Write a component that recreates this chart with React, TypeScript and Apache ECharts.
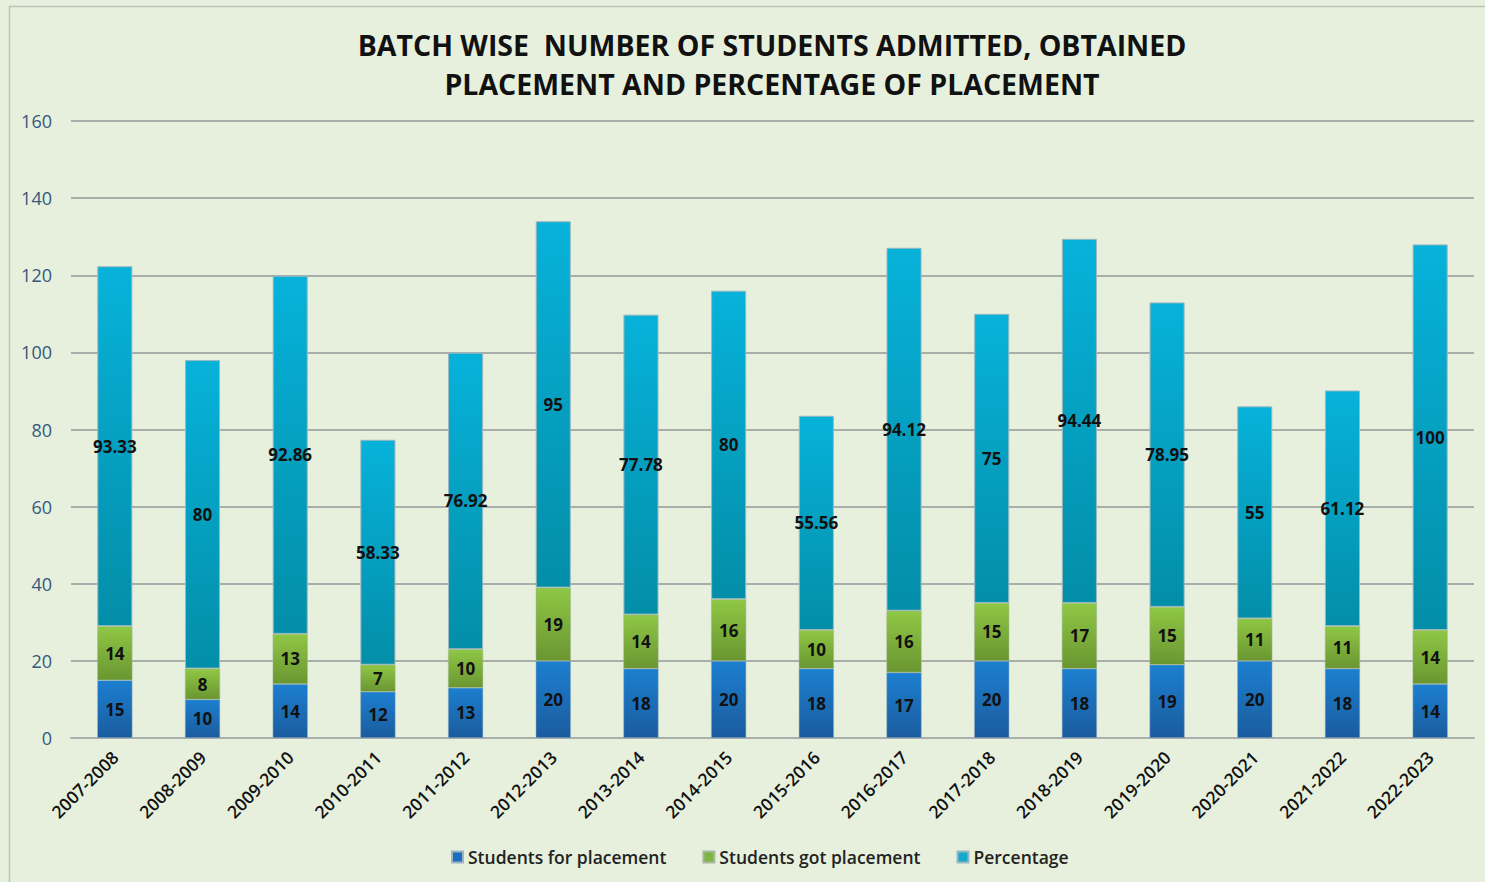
import React, { useEffect, useRef } from "react";
import * as echarts from "echarts";

const categories = ["2007-2008","2008-2009","2009-2010","2010-2011","2011-2012","2012-2013","2013-2014","2014-2015","2015-2016","2016-2017","2017-2018","2018-2019","2019-2020","2020-2021","2021-2022","2022-2023"];
const studentsForPlacement = [15,10,14,12,13,20,18,20,18,17,20,18,19,20,18,14];
const studentsGotPlacement = [14,8,13,7,10,19,14,16,10,16,15,17,15,11,11,14];
const percentage = [93.33,80,92.86,58.33,76.92,95,77.78,80,55.56,94.12,75,94.44,78.95,55,61.12,100];
const yTicks = [0, 20, 40, 60, 80, 100, 120, 140, 160];

const FONT = "'Open Sans', 'Noto Sans', sans-serif";

function grad(top: string, bottom: string) {
  return new echarts.graphic.LinearGradient(0, 0, 0, 1, [
    { offset: 0, color: top },
    { offset: 1, color: bottom },
  ]);
}

export default function App() {
  const ref = useRef<HTMLDivElement>(null);
  useEffect(() => {
    document.body.style.margin = "0";
    const chart = echarts.init(ref.current!, null, { renderer: "svg" });
    const label = {
      show: true,
      position: "inside" as const,
      color: "#111",
      fontFamily: FONT,
      fontWeight: "bold" as const,
      fontSize: 17,
    };
    chart.setOption({
      animation: false,
      backgroundColor: "#e6f0dd",
      title: {
        text: "BATCH WISE  NUMBER OF STUDENTS ADMITTED, OBTAINED\nPLACEMENT AND PERCENTAGE OF PLACEMENT",
        left: 767,
        textAlign: "center",
        top: 20,
        textStyle: {
          fontFamily: FONT,
          fontWeight: "bold",
          fontSize: 28.5,
          lineHeight: 39,
          color: "#111",
        },
      },
      graphic: [
        {
          type: "rect",
          shape: { x: 9.5, y: 6.5, width: 1520, height: 920 },
          style: { fill: "none", stroke: "#b9c4b8", lineWidth: 1.5 },
          silent: true,
        },
      ],
      legend: {
        bottom: 11,
        left: 446,
        itemWidth: 11,
        itemHeight: 11,
        itemGap: 36,
        icon: "rect",
        textStyle: { fontFamily: FONT, fontWeight: 600, fontSize: 17.5, color: "#222" },
        data: [
          { name: "Students for placement", itemStyle: { color: "#1a6fc0" } },
          { name: "Students got placement", itemStyle: { color: "#7db544" } },
          { name: "Percentage", itemStyle: { color: "#14aacc" } },
        ],
      },
      grid: { left: 71, right: 11, top: 121, bottom: 144, containLabel: false },
      xAxis: {
        type: "category",
        data: categories,
        axisLine: { show: true, lineStyle: { color: "#a8b0b0", width: 2 } },
        axisTick: { show: false },
        axisLabel: {
          rotate: 45,
          interval: 0,
          margin: 16,
          color: "#111",
          fontFamily: FONT,
          fontWeight: 600,
          fontSize: 17.5,
        },
      },
      yAxis: {
        type: "value",
        min: yTicks[0],
        max: yTicks[yTicks.length - 1],
        interval: 20,
        axisLine: { show: false },
        axisTick: { show: false },
        splitLine: { lineStyle: { color: "#a9aeab", width: 2 } },
        axisLabel: { color: "#35587e", fontFamily: FONT, fontSize: 18, margin: 19 },
      },
      series: [
        {
          name: "Students for placement",
          type: "bar",
          stack: "total",
          barWidth: "40%",
          data: studentsForPlacement,
          itemStyle: { color: grad("#1c7fd0", "#1b5c9e"), borderColor: "#9fb3c3", borderWidth: 0.5 },
          label,
        },
        {
          name: "Students got placement",
          type: "bar",
          stack: "total",
          data: studentsGotPlacement,
          itemStyle: { color: grad("#8fc745", "#6a9631"), borderColor: "#a8b8a0", borderWidth: 0.5 },
          label,
        },
        {
          name: "Percentage",
          type: "bar",
          stack: "total",
          data: percentage,
          itemStyle: { color: grad("#07b2da", "#038ea8"), borderColor: "#9ab8c0", borderWidth: 1 },
          label,
        },
      ],
    });
    return () => chart.dispose();
  }, []);
  return <div ref={ref} style={{ width: 1485, height: 882 }} />;
}
